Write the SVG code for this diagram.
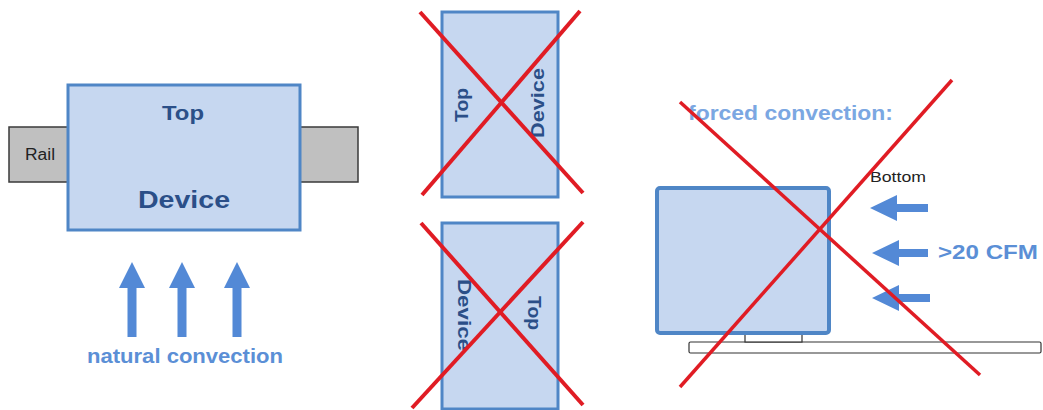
<svg xmlns="http://www.w3.org/2000/svg" width="1043" height="410" viewBox="0 0 1043 410">
<style>
.dev{fill:#c6d7f0;stroke:#4f86c6;stroke-width:3}
.rail{fill:#c0c0c0;stroke:#3a3a3a;stroke-width:1.5}
.lbl{font-family:"Liberation Sans",Arial,sans-serif;font-weight:bold;fill:#2b4f88}
.blue{font-family:"Liberation Sans",Arial,sans-serif;font-weight:bold;fill:#5b8fd6}
.plain{font-family:"Liberation Sans",Arial,sans-serif;fill:#222}
.arrow{fill:#5389d6}
.cross{stroke:#e01c24;stroke-width:4;stroke-linecap:butt}
</style>
<rect width="1043" height="410" fill="#ffffff"/>

<g id="natural">
  <rect class="rail" x="9" y="127" width="59" height="55"/>
  <rect class="rail" x="300" y="127" width="58" height="55"/>
  <rect class="dev" x="68" y="85" width="232" height="145"/>
  <text class="plain" x="25" y="160" font-size="16" textLength="30" lengthAdjust="spacingAndGlyphs">Rail</text>
  <text class="lbl" x="183" y="120" font-size="21" text-anchor="middle" textLength="42" lengthAdjust="spacingAndGlyphs">Top</text>
  <text class="lbl" x="184" y="208" font-size="24" text-anchor="middle" textLength="92" lengthAdjust="spacingAndGlyphs">Device</text>
  <polygon class="arrow" points="132,262 145,288 136.5,288 136.5,337 127.5,337 127.5,288 119,288"/>
  <polygon class="arrow" points="182,262 195,288 186.5,288 186.5,337 177.5,337 177.5,288 169,288"/>
  <polygon class="arrow" points="237,262 250,288 241.5,288 241.5,337 232.5,337 232.5,288 224,288"/>
  <text class="blue" x="185" y="363" font-size="20" text-anchor="middle" textLength="196" lengthAdjust="spacingAndGlyphs">natural convection</text>
</g>

<g id="vertical-top">
  <rect class="dev" x="442" y="12" width="116" height="185"/>
  <text class="lbl" transform="translate(468,105) rotate(-90)" font-size="19" text-anchor="middle" textLength="34" lengthAdjust="spacingAndGlyphs">Top</text>
  <text class="lbl" transform="translate(544,103) rotate(-90)" font-size="19" text-anchor="middle" textLength="70" lengthAdjust="spacingAndGlyphs">Device</text>
  <line class="cross" x1="420" y1="12" x2="583" y2="193"/>
  <line class="cross" x1="580" y1="11" x2="422" y2="195"/>
</g>

<g id="vertical-bottom">
  <rect class="dev" x="442" y="223" width="116" height="186"/>
  <text class="lbl" transform="translate(458,315) rotate(90)" font-size="19" text-anchor="middle" textLength="72" lengthAdjust="spacingAndGlyphs">Device</text>
  <text class="lbl" transform="translate(528,313) rotate(90)" font-size="19" text-anchor="middle" textLength="34" lengthAdjust="spacingAndGlyphs">Top</text>
  <line class="cross" x1="421" y1="223" x2="583" y2="405"/>
  <line class="cross" x1="583" y1="222" x2="412" y2="408"/>
</g>

<g id="forced">
  <text class="blue" x="688" y="120" font-size="20" textLength="205" lengthAdjust="spacingAndGlyphs" style="fill:#7ba7e2">forced convection:</text>
  <rect x="689" y="342" width="352" height="11" rx="1.5" fill="#ffffff" stroke="#333" stroke-width="1.2"/>
  <rect x="745" y="333" width="57" height="9" fill="#ffffff" stroke="#333" stroke-width="1.2"/>
  <rect x="657" y="188" width="172" height="145" rx="3" class="dev" style="stroke-width:4"/>
  <text class="plain" x="870" y="182" font-size="14" textLength="56" lengthAdjust="spacingAndGlyphs">Bottom</text>
  <polygon class="arrow" points="870,208 897,195 897,204 928,204 928,212 897,212 897,221"/>
  <polygon class="arrow" points="872,253 899,240 899,249 928,249 928,257 899,257 899,266"/>
  <polygon class="arrow" points="872,298 899,285 899,294 930,294 930,302 899,302 899,311"/>
  <text class="blue" x="938" y="259" font-size="21" textLength="100" lengthAdjust="spacingAndGlyphs">&gt;20 CFM</text>
  <line class="cross" x1="680" y1="102" x2="980" y2="375" style="stroke-width:3.5"/>
  <line class="cross" x1="952" y1="80" x2="680" y2="387" style="stroke-width:3.5"/>
</g>
</svg>
